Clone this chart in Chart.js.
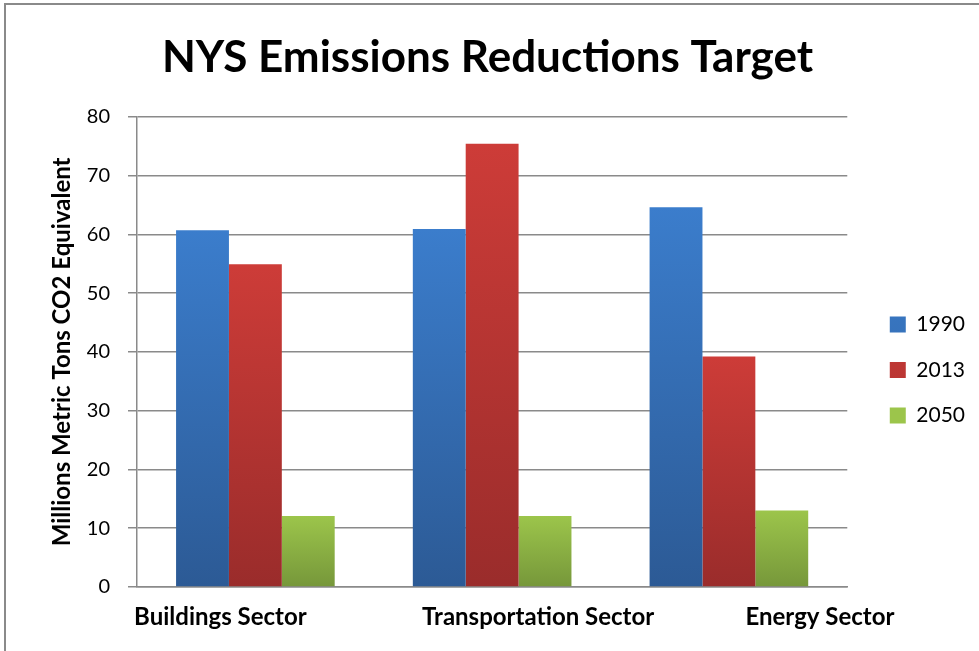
<!DOCTYPE html>
<html>
<head>
<meta charset="utf-8">
<script src="https://cdn.jsdelivr.net/npm/chart.js@4"></script>
<style>
  html, body { margin: 0; padding: 0; background: #fff; overflow: hidden; }
  #wrap { width: 979px; height: 651px; position: relative; }
</style>
</head>
<body>
<div id="wrap"><canvas id="emChart"></canvas></div>
<script>
const sectors = ["Buildings Sector", "Transportation Sector", "Energy Sector"];
const years = ["1990", "2013", "2050"];

const data1990 = [60.7, 60.9, 64.6];
const data2013 = [54.9, 75.4, 39.2];
const data2050 = [12.1, 12.1, 13.0];

const yTicks = { min: 0, max: 80, step: 10 };

// top / bottom colour of each bar gradient
const shades = [
  ["#3b7dcc", "#2c5a95"],
  ["#cd3c38", "#9a2c2b"],
  ["#9cc54b", "#76973a"]
];

// category labels are not centred under the groups in the original
const labelShift = [-35, 46, 91];

function barFill(i) {
  return (c) => {
    const chart = c.chart;
    const y = chart.scales.y;
    if (!chart.chartArea || !y || c.raw === undefined) return shades[i][0];
    const top = y.getPixelForValue(c.raw);
    const bottom = y.getPixelForValue(0);
    const g = chart.ctx.createLinearGradient(0, top, 0, bottom);
    g.addColorStop(0, shades[i][0]);
    g.addColorStop(1, shades[i][1]);
    return g;
  };
}

const frame = {
  id: "frame",
  beforeDraw(chart) {
    const ctx = chart.ctx;
    ctx.save();
    ctx.fillStyle = "#fff";
    ctx.fillRect(0, 0, chart.width, chart.height);
    ctx.strokeStyle = "#8a8a8a";
    ctx.lineWidth = 2;
    ctx.strokeRect(5, 4, 1000, 1000);
    ctx.restore();
  }
};

const sectorLabels = {
  id: "sectorLabels",
  afterDraw(chart) {
    const ctx = chart.ctx;
    const x = chart.scales.x;
    ctx.save();
    ctx.font = "bold 24px Lato";
    ctx.fillStyle = "#000";
    ctx.textAlign = "center";
    ctx.textBaseline = "middle";
    sectors.forEach((s, i) => {
      ctx.fillText(s, x.getPixelForValue(i) + labelShift[i], 617);
    });
    ctx.restore();
  }
};

new Chart(document.getElementById("emChart"), {
  type: "bar",
  data: {
    labels: sectors,
    datasets: [
      { label: years[0], data: data1990, backgroundColor: barFill(0) },
      { label: years[1], data: data2013, backgroundColor: barFill(1) },
      { label: years[2], data: data2050, backgroundColor: barFill(2) }
    ]
  },
  options: {
    responsive: true,
    maintainAspectRatio: false,
    animation: false,
    categoryPercentage: 0.67,
    barPercentage: 1.0,
    layout: { padding: { left: 0, top: 31, right: 4, bottom: 0 } },
    plugins: {
      title: {
        display: true,
        text: "NYS Emissions Reductions Target",
        color: "#000",
        font: { family: "Lato", size: 44, weight: "bold" },
        padding: { top: 0, bottom: 33 }
      },
      legend: {
        position: "right",
        title: {
          display: true,
          text: " ",
          font: { size: 10 },
          padding: { top: 46, bottom: 0 }
        },
        labels: {
          color: "#000",
          font: { family: "Lato", size: 21 },
          boxWidth: 16,
          boxHeight: 16,
          padding: 24.5
        }
      },
      tooltip: { enabled: false }
    },
    scales: {
      x: {
        grid: { display: false },
        border: { display: true, color: "#8a8a8a", width: 1.5 },
        ticks: { display: false },
        afterFit: (s) => { s.height = 64; }
      },
      y: {
        min: yTicks.min,
        max: yTicks.max,
        ticks: {
          stepSize: yTicks.step,
          color: "#000",
          font: { family: "Lato", size: 20 },
          padding: 18
        },
        grid: { color: "#8a8a8a", lineWidth: 1.5, tickLength: 9 },
        border: { color: "#8a8a8a", width: 1.5 },
        title: {
          display: true,
          text: "Millions Metric Tons CO2 Equivalent",
          color: "#000",
          font: { family: "Lato", size: 24, weight: "bold" },
          padding: { top: 48, bottom: 0 }
        },
        afterFit: (s) => { s.width = 137; }
      },
      gap: {
        type: "linear",
        position: "right",
        display: true,
        grid: { display: false, drawTicks: false },
        border: { display: false },
        ticks: { display: false },
        afterFit: (s) => { s.width = 18; }
      }
    }
  },
  plugins: [frame, sectorLabels]
});
</script>
</body>
</html>
